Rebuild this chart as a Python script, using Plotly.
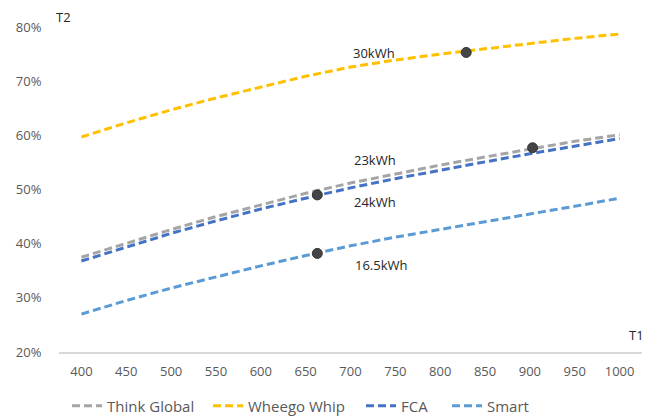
import plotly.graph_objects as go

# T1 values (x categories)
t1 = [400, 450, 500, 550, 600, 650, 700, 750, 800, 850, 900, 950, 1000]

# T2 values (%) per vehicle
think_global = [37.5, 40.1, 42.6, 45.0, 47.2, 49.3, 51.2, 52.9, 54.5, 56.0, 57.5, 58.9, 60.1]
wheego_whip = [59.7, 62.3, 64.7, 66.9, 68.9, 70.9, 72.6, 73.9, 75.0, 76.0, 77.0, 77.9, 78.7]
fca = [36.8, 39.4, 41.9, 44.2, 46.4, 48.4, 50.3, 52.0, 53.6, 55.1, 56.6, 58.0, 59.4]
smart = [27.0, 29.5, 31.8, 33.9, 35.9, 37.8, 39.6, 41.2, 42.6, 44.0, 45.5, 46.9, 48.4]

# Highlighted operating points
point_t1 = [829, 663, 903, 663]
point_t2 = [75.3, 49.0, 57.7, 38.2]

# Battery capacity labels
label_text = ["30kWh", "23kWh", "24kWh", "16.5kWh"]
label_t1 = [726, 727, 727, 734]
label_t2 = [75.2, 55.5, 47.7, 36.1]

series = [
    ("Think Global", think_global, "#A5A5A5"),
    ("Wheego Whip", wheego_whip, "#FFC000"),
    ("FCA", fca, "#4472C4"),
    ("Smart", smart, "#5B9BD5"),
]
legend_ids = ["legend", "legend2", "legend3", "legend4"]
legend_left_px = [67, 208, 361, 447]

fig = go.Figure()
for (name, vals, color), lid in zip(series, legend_ids):
    fig.add_trace(go.Scatter(
        x=t1, y=vals, name=name, mode="lines", legend=lid,
        line=dict(color=color, width=3, dash="8px,4px"),
    ))

fig.add_trace(go.Scatter(
    x=point_t1, y=point_t2, mode="markers", showlegend=False,
    marker=dict(color="#454545", size=10, line=dict(color="#333333", width=1)),
    hoverinfo="skip",
))

for txt, xv, yv in zip(label_text, label_t1, label_t2):
    fig.add_annotation(x=xv, y=yv, text=txt, showarrow=False,
                       font=dict(family="Open Sans, sans-serif", size=13, color="#262626"))

fig.add_annotation(xref="paper", yref="paper", x=0.008, y=1.031, yanchor="middle",
                   xanchor="center", text="T2", showarrow=False,
                   font=dict(family="Open Sans, sans-serif", size=13, color="#262626"))
fig.add_annotation(xref="paper", yref="paper", x=0.99, y=0.053, yanchor="middle",
                   xanchor="center", text="T1", showarrow=False,
                   font=dict(family="Open Sans, sans-serif", size=13, color="#262626"))

legend_layout = {}
for lid, lx in zip(legend_ids, legend_left_px):
    legend_layout[lid] = dict(
        orientation="h", xref="container", yref="container",
        x=lx / 656, xanchor="left", y=(420 - 406) / 420, yanchor="middle",
        font=dict(size=15, color="#595959"), itemwidth=30,
        bgcolor="rgba(0,0,0,0)",
    )

fig.update_layout(
    width=656, height=420,
    margin=dict(l=59, r=14, t=27, b=68, autoexpand=False),
    paper_bgcolor="white", plot_bgcolor="white",
    font=dict(family="Open Sans, sans-serif", size=13, color="#595959"),
    showlegend=True,
    **legend_layout,
)
fig.update_xaxes(range=[375, 1025], tickvals=t1, showgrid=False, zeroline=False,
                 showline=True, linecolor="#D9D9D9", linewidth=1.5, automargin=False,
                 ticks="outside", ticklen=7, tickcolor="rgba(0,0,0,0)")
fig.update_yaxes(range=[20, 80], dtick=10, ticksuffix="%", showgrid=False, zeroline=False,
                 showline=False, ticks="outside", ticklen=14, automargin=False,
                 tickcolor="rgba(0,0,0,0)")

fig.write_html("out.html", config={"displayModeBar": False},
               post_script="document.body.style.margin='0';document.body.style.overflow='hidden';")
